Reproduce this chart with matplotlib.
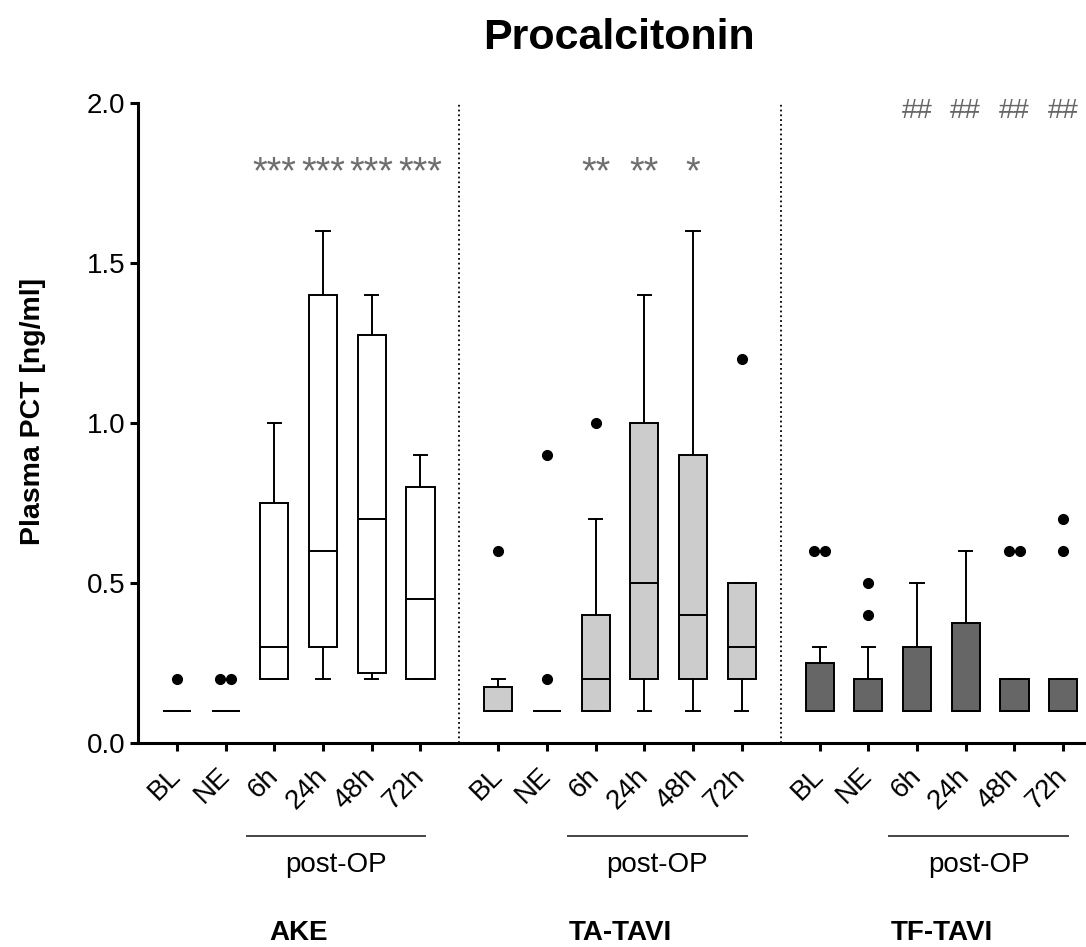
import matplotlib
matplotlib.use("Agg")
import matplotlib.pyplot as plt
import matplotlib.transforms as mtransforms

plt.rcParams['font.family'] = ['Liberation Sans', 'DejaVu Sans']

labels = ['BL', 'NE', '6h', '24h', '48h', '72h']
groups = ['AKE', 'TA-TAVI', 'TF-TAVI']

# AKE
ake_q1 = [0.1, 0.1, 0.2, 0.3, 0.22, 0.2]
ake_med = [0.1, 0.1, 0.3, 0.6, 0.7, 0.45]
ake_q3 = [0.1, 0.1, 0.75, 1.4, 1.275, 0.8]
ake_lo = [0.1, 0.1, 0.2, 0.2, 0.2, 0.2]
ake_hi = [0.1, 0.1, 1.0, 1.6, 1.4, 0.9]
ake_out = [[0.2], [0.2, 0.2], [], [], [], []]
ake_sig = ['', '', '***', '***', '***', '***']

# TA-TAVI
ta_q1 = [0.1, 0.1, 0.1, 0.2, 0.2, 0.2]
ta_med = [0.1, 0.1, 0.2, 0.5, 0.4, 0.3]
ta_q3 = [0.175, 0.1, 0.4, 1.0, 0.9, 0.5]
ta_lo = [0.1, 0.1, 0.1, 0.1, 0.1, 0.1]
ta_hi = [0.2, 0.1, 0.7, 1.4, 1.6, 0.5]
ta_out = [[0.6], [0.2, 0.9], [1.0], [], [], [1.2]]
ta_sig = ['', '', '**', '**', '*', '']

# TF-TAVI
tf_q1 = [0.1, 0.1, 0.1, 0.1, 0.1, 0.1]
tf_med = [0.1, 0.1, 0.1, 0.1, 0.1, 0.1]
tf_q3 = [0.25, 0.2, 0.3, 0.375, 0.2, 0.2]
tf_lo = [0.1, 0.1, 0.1, 0.1, 0.1, 0.1]
tf_hi = [0.3, 0.3, 0.5, 0.6, 0.2, 0.2]
tf_out = [[0.6, 0.6], [0.4, 0.5], [], [], [0.6, 0.6], [0.6, 0.7]]
tf_sig = ['', '', '##', '##', '##', '##']

data = [
    (ake_q1, ake_med, ake_q3, ake_lo, ake_hi, ake_out, ake_sig, 'white'),
    (ta_q1, ta_med, ta_q3, ta_lo, ta_hi, ta_out, ta_sig, '#cccccc'),
    (tf_q1, tf_med, tf_q3, tf_lo, tf_hi, tf_out, tf_sig, '#666666'),
]

gap = 6.6
lw = 1.4

fig = plt.figure(figsize=(10.86, 9.47), dpi=100)
ax = fig.add_axes([138/1086, 204/947, 948/1086, 640/947])
tr = mtransforms.blended_transform_factory(ax.transData, fig.transFigure)

all_pos = []
all_lab = []
for g, (q1, med, q3, lo, hi, out, sig, col) in enumerate(data):
    pos = [g*gap + i for i in range(len(labels))]
    stats = []
    for i in range(len(labels)):
        stats.append({'q1': q1[i], 'med': med[i], 'q3': q3[i],
                      'whislo': lo[i], 'whishi': hi[i], 'fliers': []})
    ax.bxp(stats, positions=pos, widths=0.58, capwidths=0.27,
           showfliers=False, patch_artist=True,
           boxprops=dict(facecolor=col, edgecolor='black', linewidth=lw),
           medianprops=dict(color='black', linewidth=lw),
           whiskerprops=dict(color='black', linewidth=lw),
           capprops=dict(color='black', linewidth=lw),
           manage_ticks=False, zorder=3)
    # outliers, dodged when equal
    for i, vals in enumerate(out):
        for v in set(vals):
            k = vals.count(v)
            for j in range(k):
                dx = (j - (k - 1) / 2) * 0.225
                ax.plot(pos[i] + dx, v, 'o', color='black', markersize=7,
                        zorder=4, clip_on=False)
    for i, s in enumerate(sig):
        if not s:
            continue
        if s.startswith('#'):
            ax.text(pos[i], 1.953, s, ha='center', va='baseline',
                    fontsize=20, color='#666666', clip_on=False)
        else:
            ax.text(pos[i], 1.75, s, ha='center', va='baseline',
                    fontsize=27, color='#6e6e6e', clip_on=False)
    all_pos += pos
    all_lab += labels

    # post-OP bracket and group name
    x0 = pos[2] - 0.57
    x1 = pos[5] + 0.1
    ax.plot([x0, x1], [1 - 836/947, 1 - 836/947], color='#444444',
            linewidth=1.4, transform=tr, clip_on=False)
    ax.text((x0 + x1) / 2, 1 - 872/947, 'post-OP', ha='center',
            va='baseline', fontsize=20, transform=tr)
    ax.text((pos[0] + pos[5]) / 2, 1 - 940/947, groups[g], ha='center',
            va='baseline', fontsize=20, fontweight='bold', transform=tr)

# group dividers
for g in range(1, len(groups)):
    ax.axvline(g*gap - (gap - 5) / 2, ymin=0, ymax=1, color='black',
               linestyle=':', linewidth=1.3, zorder=1)

ax.set_xlim(-0.8, 18.67)
ax.set_ylim(0, 2.0)
ax.set_yticks([0.0, 0.5, 1.0, 1.5, 2.0])
ax.set_yticklabels(['0.0', '0.5', '1.0', '1.5', '2.0'])
ax.set_xticks(all_pos)
ax.set_xticklabels(all_lab, rotation=45, ha='right', va='center',
                   rotation_mode='anchor')

for side in ['top', 'right']:
    ax.spines[side].set_visible(False)
for side in ['left', 'bottom']:
    ax.spines[side].set_linewidth(2.2)
ax.tick_params(axis='y', length=6, width=2.2, labelsize=20, pad=3)
ax.tick_params(axis='x', length=6, width=2.2, labelsize=20, pad=15)

fig.text(619/1086, 1 - 49/947, 'Procalcitonin', ha='center', va='baseline',
         fontsize=31, fontweight='bold')
fig.text(40/1086, 1 - 411/947, 'Plasma PCT [ng/ml]', rotation=90,
         ha='center', va='baseline', rotation_mode='anchor',
         fontsize=20.5, fontweight='bold')

fig.savefig('out.png', dpi=100)
